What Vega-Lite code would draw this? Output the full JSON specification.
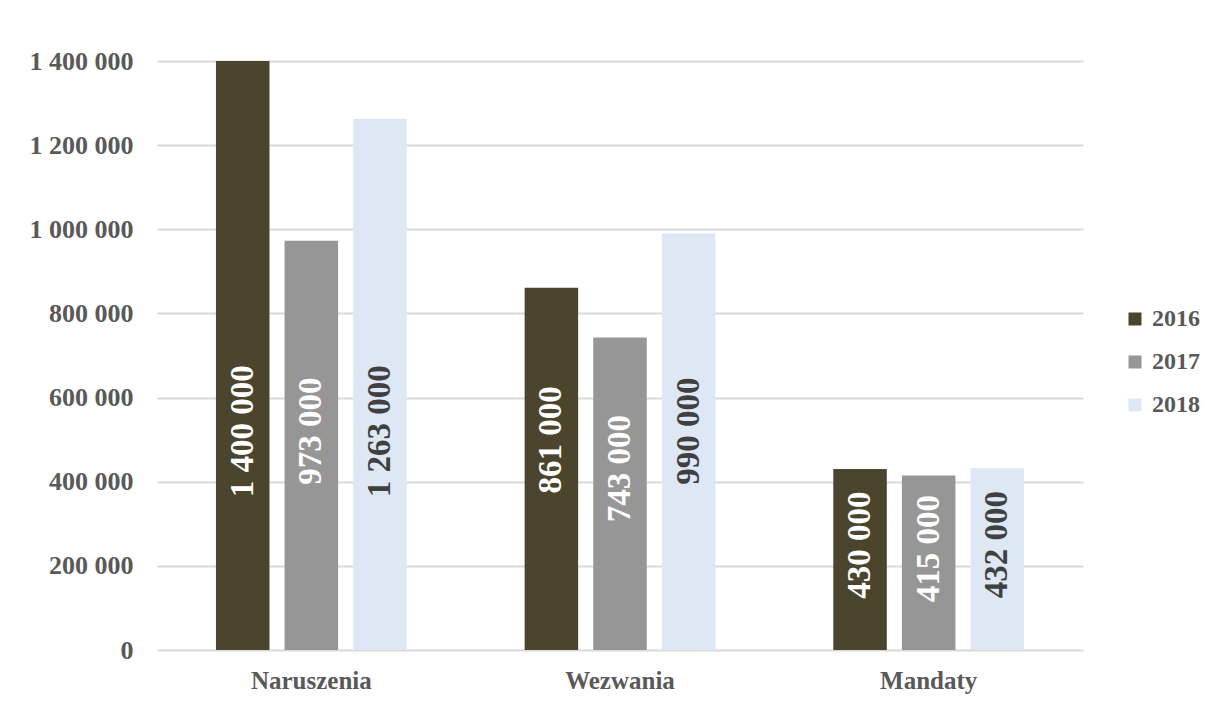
{
  "$schema": "https://vega.github.io/schema/vega-lite/v6.json",
  "autosize": "none",
  "width": 926,
  "height": 589,
  "padding": {"left": 157, "top": 61, "right": 124, "bottom": 54},
  "background": "white",
  "config": {
    "view": {"stroke": null},
    "locale": {"number": {"decimal": ",", "thousands": " ", "grouping": [3], "currency": ["", " zł"]}},
    "font": "Liberation Serif"
  },
  "data": {
    "values": [
      {"category": "Naruszenia", "year": "2016", "value": 1400000},
      {"category": "Naruszenia", "year": "2017", "value": 973000},
      {"category": "Naruszenia", "year": "2018", "value": 1263000},
      {"category": "Wezwania", "year": "2016", "value": 861000},
      {"category": "Wezwania", "year": "2017", "value": 743000},
      {"category": "Wezwania", "year": "2018", "value": 990000},
      {"category": "Mandaty", "year": "2016", "value": 430000},
      {"category": "Mandaty", "year": "2017", "value": 415000},
      {"category": "Mandaty", "year": "2018", "value": 432000}
    ]
  },
  "transform": [{"calculate": "min(datum.value * 0.58, 520000)", "as": "labelAt"}],
  "encoding": {
    "x": {
      "field": "category", "type": "nominal", "sort": null,
      "scale": {"paddingInner": 0.382, "paddingOuter": 0.191},
      "axis": {"title": null, "labelAngle": 0, "labelFont": "Liberation Serif", "labelFontWeight": "bold", "labelFontSize": 25, "labelColor": "#595959", "labelPadding": 18, "ticks": false, "domain": false, "grid": false}
    },
    "xOffset": {"field": "year", "type": "nominal", "scale": {"paddingInner": 0.22}}
  },
  "layer": [
    {
      "mark": {"type": "bar"},
      "encoding": {
        "y": {
          "field": "value", "type": "quantitative",
          "scale": {"domain": [0, 1400000], "nice": false},
          "axis": {"title": null, "values": [0, 200000, 400000, 600000, 800000, 1000000, 1200000, 1400000], "format": ",d", "labelFont": "Liberation Serif", "labelFontWeight": "bold", "labelFontSize": 26, "labelColor": "#595959", "labelPadding": 24, "ticks": false, "domain": false, "gridColor": "#d9d9d9", "gridWidth": 2}
        },
        "color": {
          "field": "year", "type": "nominal",
          "scale": {"domain": ["2016", "2017", "2018"], "range": ["#4b452d", "#969696", "#dde8f4"]},
          "legend": {"title": null, "orient": "none", "legendX": 966, "legendY": 246, "symbolType": "square", "symbolSize": 169, "symbolStrokeWidth": 0, "labelFont": "Liberation Serif", "labelFontWeight": "bold", "labelFontSize": 24, "labelColor": "#595959", "rowPadding": 19, "labelOffset": 5}
        }
      }
    },
    {
      "mark": {"type": "text", "angle": 270, "font": "Liberation Serif", "fontWeight": "bold", "fontSize": 33, "baseline": "middle", "align": "center"},
      "encoding": {
        "y": {"field": "labelAt", "type": "quantitative"},
        "text": {"field": "value", "type": "quantitative", "format": ",d"},
        "color": {"condition": {"test": "datum.year == '2018'", "value": "#404040"}, "value": "#ffffff"}
      }
    }
  ]
}
